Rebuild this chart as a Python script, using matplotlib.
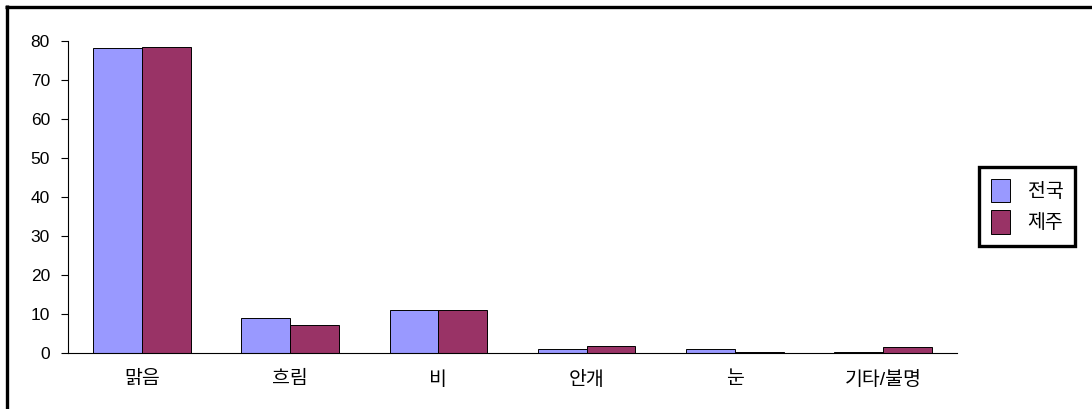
import matplotlib.pyplot as plt
import numpy as np
from matplotlib.lines import Line2D

plt.rcParams['font.family'] = ['Liberation Sans', 'Noto Sans CJK KR', 'DejaVu Sans']

categories = ['맑음', '흐림', '비', '안개', '눈', '기타/불명']
nation = [78.2, 8.9, 10.9, 0.9, 0.9, 0.2]
jeju = [78.4, 7.1, 11.0, 1.8, 0.3, 1.6]
series_names = ['전국', '제주']

W, H = 1092, 409
fig = plt.figure(figsize=(W / 100, H / 100), dpi=100)
ax = fig.add_axes([68 / W, 1 - 353 / H, (957 - 68) / W, (353 - 41) / H])

x = np.arange(len(categories))
w = 0.33
ax.bar(x - w / 2, nation, w, color='#9999ff', edgecolor='black', linewidth=0.7, label=series_names[0])
ax.bar(x + w / 2, jeju, w, color='#993366', edgecolor='black', linewidth=0.7, label=series_names[1])

ax.set_xlim(-0.5, len(categories) - 0.5)
ax.set_ylim(0, 80)
ax.set_yticks(range(0, 81, 10))
ax.set_xticks(x)
ax.set_xticklabels(categories)
ax.tick_params(axis='x', length=0, pad=13, labelsize=14)
ax.tick_params(axis='y', direction='out', length=5, width=0.8, pad=8, labelsize=12.5)
for s in ['top', 'right']:
    ax.spines[s].set_visible(False)
ax.spines['left'].set_linewidth(0.8)
ax.spines['bottom'].set_linewidth(0.8)

leg = fig.legend(loc='upper left', bbox_to_anchor=(979 / W, 1 - 167 / H),
                 fancybox=False, framealpha=1, edgecolor='black', fontsize=14,
                 handlelength=1.0, handleheight=1.5, borderpad=0.6, labelspacing=0.4,
                 handletextpad=0.9, borderaxespad=0)
leg.get_frame().set_linewidth(2.4)

# outer chart frame (top and left edges visible)
fig.add_artist(Line2D([5 / W, 1], [1 - 6.5 / H, 1 - 6.5 / H], color='black', lw=2.4,
                      solid_capstyle='butt', transform=fig.transFigure))
fig.add_artist(Line2D([6.5 / W, 6.5 / W], [0, 1 - 5 / H], color='black', lw=2.4,
                      solid_capstyle='butt', transform=fig.transFigure))

fig.savefig('out.png', dpi=100)
